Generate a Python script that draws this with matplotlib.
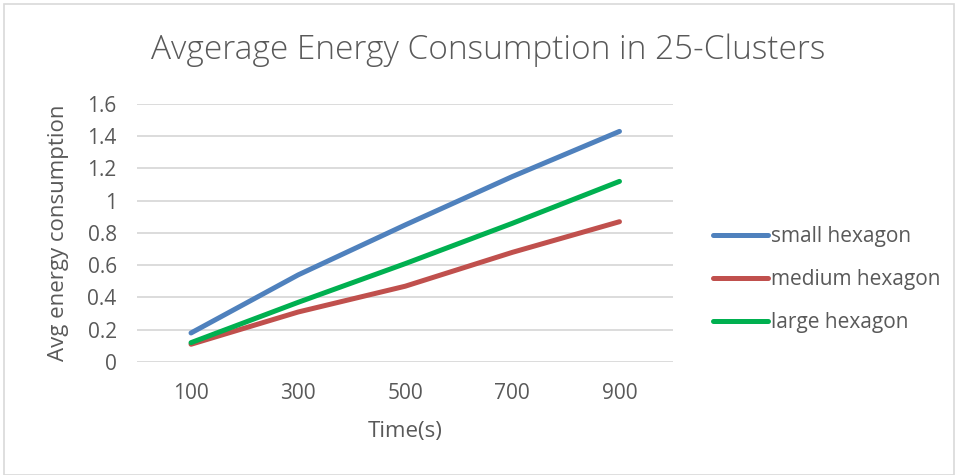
import matplotlib
matplotlib.use("Agg")
import matplotlib.pyplot as plt
from matplotlib.patches import Rectangle

times = ["100", "300", "500", "700", "900"]
small_hex = [0.18, 0.54, 0.85, 1.15, 1.43]
medium_hex = [0.11, 0.31, 0.47, 0.68, 0.87]
large_hex = [0.12, 0.37, 0.61, 0.86, 1.12]
y_ticks = [0, 0.2, 0.4, 0.6, 0.8, 1, 1.2, 1.4, 1.6]

TXT = "#595959"
plt.rcParams["font.family"] = ["Open Sans", "DejaVu Sans"]

fig = plt.figure(figsize=(9.56, 4.75), dpi=100)
fig.patches.append(Rectangle((0.004, 0.0), 0.994, 0.992, transform=fig.transFigure,
                             fill=False, edgecolor="#D9D9D9", lw=1.2))
ax = fig.add_axes([0.1438, 0.2379, 0.5602, 0.5432])

x = range(len(times))
series = [("small hexagon", small_hex, "#4F81BD"),
          ("medium hexagon", medium_hex, "#C0504D"),
          ("large hexagon", large_hex, "#00B050")]
for name, vals, col in series:
    ax.plot(x, vals, color=col, lw=3.6, solid_capstyle="round",
            solid_joinstyle="round", label=name)

ax.set_xlim(-0.5, len(times) - 0.5)
ax.set_ylim(0, 1.6)
ax.set_xticks(list(x))
ax.set_xticklabels(times)
ax.set_yticks(y_ticks)
ax.set_yticklabels([f"{v:g}" for v in y_ticks])
ax.grid(axis="y", color="#D9D9D9", lw=1.3)
ax.set_axisbelow(True)
for s in ax.spines.values():
    s.set_visible(False)
ax.tick_params(length=0, labelsize=15, colors=TXT, pad=15)

ax.set_xlabel("Time(s)", fontsize=16, color=TXT, va="center")
ax.set_ylabel("Avg energy consumption", fontsize=16, color=TXT, va="center")
ax.xaxis.set_label_coords(0.5, -0.271)
ax.yaxis.set_label_coords(-0.1466, 0.5)
fig.text(0.5105, 0.895, "Avgerage Energy Consumption in 25-Clusters",
         ha="center", va="center", fontsize=24, color=TXT, fontweight="light")

ax.legend(loc="center left", bbox_to_anchor=(713 / 956, 0.411),
          bbox_transform=fig.transFigure, borderaxespad=0, borderpad=0,
          frameon=False, fontsize=15, labelcolor=TXT, handlelength=2.65,
          handletextpad=0.15, labelspacing=1.05)

fig.savefig("out.png", dpi=100)
